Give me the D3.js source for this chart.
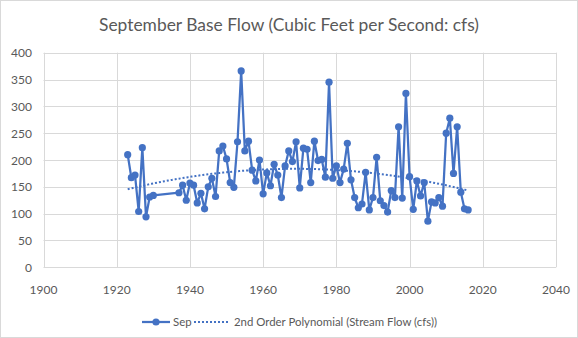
<!DOCTYPE html>
<html>
<head>
<meta charset="utf-8">
<script src="https://cdn.jsdelivr.net/npm/d3@7"></script>
<style>
  body { margin: 0; background: #fff; }
  svg { display: block; font-family: Lato, 'Liberation Sans', sans-serif; }
</style>
</head>
<body>
<div id="chart"></div>
<script>
// September flow per year (cfs)
const years = [1923, 1924, 1925, 1926, 1927, 1928, 1929, 1930,
    1937, 1938, 1939, 1940, 1941, 1942, 1943, 1944, 1945, 1946, 1947, 1948, 1949,
    1950, 1951, 1952, 1953, 1954, 1955, 1956, 1957, 1958, 1959,
    1960, 1961, 1962, 1963, 1964, 1965, 1966, 1967, 1968, 1969,
    1970, 1971, 1972, 1973, 1974, 1975, 1976, 1977, 1978, 1979,
    1980, 1981, 1982, 1983, 1984, 1985, 1986, 1987, 1988, 1989,
    1990, 1991, 1992, 1993, 1994, 1995, 1996, 1997, 1998, 1999,
    2000, 2001, 2002, 2003, 2004, 2005, 2006, 2007, 2008, 2009,
    2010, 2011, 2012, 2013, 2014, 2015, 2016];
const flows = [210, 167, 172, 104, 223, 94, 131, 134,
    139, 153, 125, 157, 153, 120, 138, 109, 150, 166, 132, 217, 226,
    202, 158, 149, 234, 366, 217, 235, 181, 161, 200,
    137, 176, 152, 192, 172, 130, 189, 217, 197, 234,
    148, 222, 220, 158, 235, 199, 201, 168, 345, 166,
    189, 158, 183, 231, 163, 130, 111, 118, 177, 107,
    130, 205, 124, 115, 103, 143, 130, 262, 129, 324,
    169, 108, 161, 133, 158, 86, 122, 120, 130, 114,
    250, 278, 175, 262, 140, 109, 107];
const xTicks = [1900, 1920, 1940, 1960, 1980, 2000, 2020, 2040];
const yTicks = [0, 50, 100, 150, 200, 250, 300, 350, 400];
const titleText = 'September Base Flow (Cubic Feet per Second: cfs)';
const seriesName = 'Sep';
const trendName = '2nd Order Polynomial (Stream Flow (cfs))';

class FlowChart {

    constructor(_config, _years, _flows) {
        this.config = {
            parentElement: _config.parentElement,
            width: _config.width,
            height: _config.height,
        };
        this.data = _years.map((y, i) => ({ year: y, flow: _flows[i] }));
        this.initVis();
    }

    initVis() {
        let vis = this;
        vis.svg = d3.select(vis.config.parentElement)
            .append('svg')
            .attr('width', vis.config.width)
            .attr('height', vis.config.height);
        // chart border
        vis.svg.append('rect')
            .attr('x', 0.5).attr('y', 0.5)
            .attr('width', vis.config.width - 1)
            .attr('height', vis.config.height - 1)
            .attr('fill', '#fff')
            .attr('stroke', '#d9d9d9');
        vis.xScale = d3.scaleLinear().domain([1900, 2040]).range([43.5, 556]);
        vis.yScale = d3.scaleLinear().domain([0, 400]).range([267.3, 52.7]);
        vis.renderVis();
    }

    // least squares quadratic, like the excel trendline
    polyFit() {
        let vis = this;
        const x0 = d3.mean(vis.data, d => d.year);
        let s = [0, 0, 0, 0, 0], t = [0, 0, 0];
        vis.data.forEach(d => {
            const x = d.year - x0;
            for (let k = 0; k < 5; k++) s[k] += Math.pow(x, k);
            for (let k = 0; k < 3; k++) t[k] += d.flow * Math.pow(x, k);
        });
        const A = [[s[0], s[1], s[2], t[0]], [s[1], s[2], s[3], t[1]], [s[2], s[3], s[4], t[2]]];
        for (let i = 0; i < 3; i++) {
            for (let j = i + 1; j < 3; j++) {
                const f = A[j][i] / A[i][i];
                for (let k = i; k < 4; k++) A[j][k] -= f * A[i][k];
            }
        }
        const c = [0, 0, 0];
        for (let i = 2; i >= 0; i--) {
            let v = A[i][3];
            for (let k = i + 1; k < 3; k++) v -= A[i][k] * c[k];
            c[i] = v / A[i][i];
        }
        return (yr) => c[0] + c[1] * (yr - x0) + c[2] * (yr - x0) * (yr - x0);
    }

    renderVis() {
        let vis = this;
        const textColor = '#595959';
        const blue = '#4472c4';

        // gridlines
        vis.svg.append('g')
            .selectAll('line')
            .data(yTicks)
            .join('line')
            .attr('x1', vis.xScale(1900))
            .attr('x2', vis.xScale(2040))
            .attr('y1', d => Math.round(vis.yScale(d)) + 0.5)
            .attr('y2', d => Math.round(vis.yScale(d)) + 0.5)
            .attr('stroke', '#d9d9d9')
            .attr('stroke-width', 1);
        vis.svg.append('g')
            .selectAll('line')
            .data(xTicks)
            .join('line')
            .attr('x1', d => Math.round(vis.xScale(d)) + 0.5)
            .attr('x2', d => Math.round(vis.xScale(d)) + 0.5)
            .attr('y1', vis.yScale(400))
            .attr('y2', vis.yScale(0))
            .attr('stroke', '#d9d9d9')
            .attr('stroke-width', 1);

        // axis labels
        vis.svg.append('g')
            .selectAll('text')
            .data(yTicks)
            .join('text')
            .attr('x', 32)
            .attr('y', d => vis.yScale(d) + 4.5)
            .attr('text-anchor', 'end')
            .attr('fill', textColor)
            .style('font-size', '12px')
            .text(d => d);
        vis.svg.append('g')
            .selectAll('text')
            .data(xTicks)
            .join('text')
            .attr('x', d => vis.xScale(d))
            .attr('y', 294)
            .attr('text-anchor', 'middle')
            .attr('fill', textColor)
            .style('font-size', '12px')
            .text(d => d);

        // title
        vis.svg.append('text')
            .attr('x', 289)
            .attr('y', 31)
            .attr('text-anchor', 'middle')
            .attr('fill', textColor)
            .style('font-size', '17.4px')
            .text(titleText);

        // series line + markers
        const line = d3.line()
            .x(d => vis.xScale(d.year))
            .y(d => vis.yScale(d.flow));
        vis.svg.append('path')
            .datum(vis.data)
            .attr('d', line)
            .attr('fill', 'none')
            .attr('stroke', blue)
            .attr('stroke-width', 2.25)
            .attr('stroke-linejoin', 'round');
        vis.svg.append('g')
            .selectAll('circle')
            .data(vis.data)
            .join('circle')
            .attr('cx', d => vis.xScale(d.year))
            .attr('cy', d => vis.yScale(d.flow))
            .attr('r', 3.6)
            .attr('fill', blue);

        // trendline
        const fit = vis.polyFit();
        const first = d3.min(vis.data, d => d.year), last = d3.max(vis.data, d => d.year);
        const trend = d3.range(first, last + 0.01, 0.5).map(yr => ({ year: yr, flow: fit(yr) }));
        vis.svg.append('path')
            .datum(trend)
            .attr('d', line)
            .attr('fill', 'none')
            .attr('stroke', blue)
            .attr('stroke-width', 2)
            .style('stroke-dasharray', '2, 2');

        // legend
        const ly = 322;
        vis.svg.append('line')
            .attr('x1', 142).attr('x2', 170)
            .attr('y1', ly).attr('y2', ly)
            .attr('stroke', blue).attr('stroke-width', 2.25);
        vis.svg.append('circle')
            .attr('cx', 156).attr('cy', ly).attr('r', 3.6)
            .attr('fill', blue);
        vis.svg.append('text')
            .attr('x', 173).attr('y', ly + 4.3)
            .attr('fill', textColor)
            .style('font-size', '11.4px')
            .text(seriesName);
        vis.svg.append('line')
            .attr('x1', 194).attr('x2', 229)
            .attr('y1', ly).attr('y2', ly)
            .attr('stroke', blue).attr('stroke-width', 2)
            .style('stroke-dasharray', '2, 2');
        vis.svg.append('text')
            .attr('x', 234).attr('y', ly + 4.3)
            .attr('fill', textColor)
            .style('font-size', '11.4px')
            .text(trendName);
    }
}

new FlowChart({ parentElement: '#chart', width: 578, height: 338 }, years, flows);
</script>
</body>
</html>
